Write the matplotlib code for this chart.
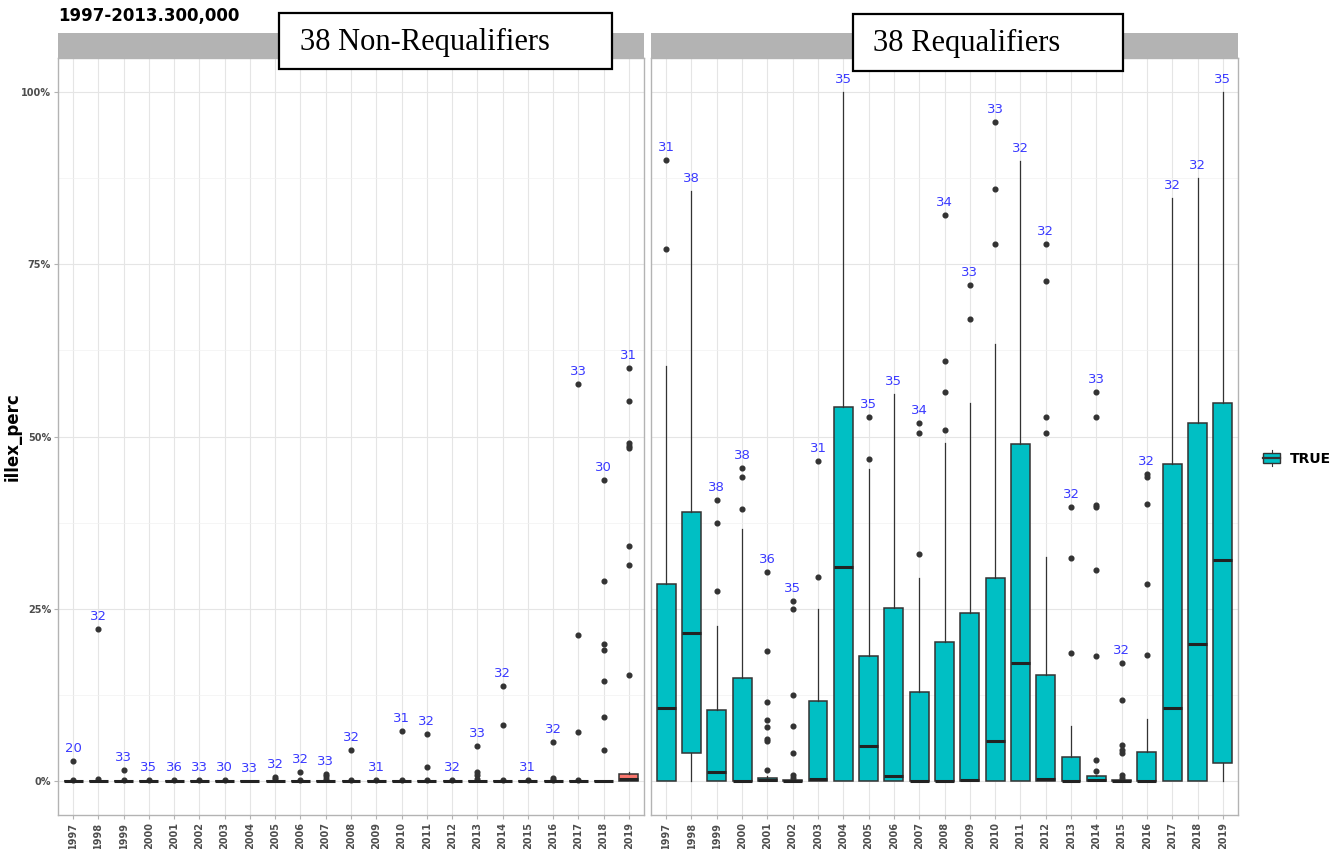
import matplotlib.pyplot as plt
from matplotlib.patches import Rectangle, Patch
from matplotlib.lines import Line2D
from matplotlib.legend_handler import HandlerBase
from matplotlib.ticker import FuncFormatter, MultipleLocator

years = [str(y) for y in range(1997, 2020)]

# ---- Non-Requalifiers (left facet) ----
nr_q1 = [0] * 23
nr_med = [0] * 22 + [0.2]
nr_q3 = [0] * 22 + [0.9]
nr_lo = [0] * 23
nr_hi = [0] * 22 + [1.3]
nr_out = [
    [2.9, 0.1], [22.0, 0.3], [1.5, 0.1], [0.1], [0.1], [0.1], [0.1], [],
    [0.5, 0.2], [1.3, 0.1], [0.9, 0.6, 0.3], [4.5, 0.1], [0.1], [7.2, 0.1],
    [6.8, 2.0, 0.1], [0.1], [5.0, 1.3, 0.8, 0.3], [13.7, 8.1, 0.1], [0.1],
    [5.6, 0.4, 0.1], [57.6, 21.1, 7.0, 0.1],
    [43.7, 29.0, 19.9, 19.0, 14.4, 9.2, 4.5],
    [60.0, 55.2, 49.0, 48.6, 48.4, 34.1, 31.4, 15.4],
]
nr_n = [20, 32, 33, 35, 36, 33, 30, 33, 32, 32, 33, 32, 31, 31, 32, 32, 33, 32, 31, 32, 33, 30, 31]

# ---- Requalifiers (right facet) ----
r_q1 = [0, 4.0] + [0] * 20 + [2.6]
r_med = [10.6, 21.4, 1.3, 0, 0.1, 0, 0.2, 31.0, 5.0, 0.7, 0, 0, 0.1, 5.8, 17.1, 0.2, 0, 0.1, 0, 0, 10.6, 19.9, 32.0]
r_q3 = [28.6, 39.0, 10.3, 14.9, 0.4, 0.1, 11.6, 54.3, 18.1, 25.1, 12.9, 20.1, 24.4, 29.5, 48.9, 15.4, 3.5, 0.6, 0.1, 4.2, 46.0, 52.0, 54.8]
r_lo = [0] * 23
r_hi = [60.3, 85.7, 22.4, 36.6, 0.7, 0.2, 24.9, 100, 45.3, 56.2, 29.5, 49.0, 54.8, 63.4, 90.1, 32.5, 7.9, 0.8, 0.2, 8.9, 84.7, 87.6, 100]
r_out = [
    [90.2, 77.3], [], [40.8, 37.5, 27.5], [45.4, 44.1, 39.5],
    [30.3, 18.8, 11.4, 8.8, 7.8, 6.1, 5.7, 1.5],
    [26.1, 24.9, 12.5, 8.0, 4.0, 0.8, 0.4],
    [46.5, 29.6], [], [52.9, 46.8], [], [51.9, 50.5, 32.9],
    [82.2, 61.0, 56.5, 51.0], [72.0, 67.1], [95.7, 85.9, 77.9], [],
    [78.0, 72.6, 52.9, 50.5], [39.7, 32.3, 18.6],
    [56.4, 52.8, 40.1, 39.8, 30.6, 18.1, 3.0, 1.4],
    [17.1, 11.7, 5.2, 4.5, 4.0, 0.8, 0.4],
    [44.5, 44.1, 40.2, 28.6, 18.2], [], [], [],
]
r_n = [31, 38, 38, 38, 36, 35, 31, 35, 35, 35, 34, 34, 33, 33, 32, 32, 32, 33, 32, 32, 32, 32, 35]

RED = "#F8766D"
TEAL = "#00BFC4"
DARK = "#333333"
W, H = 1338, 849

fig = plt.figure(figsize=(W / 100, H / 100), dpi=100)


def draw_panel(ax, q1, med, q3, lo, hi, out, n, color, show_y):
    stats = []
    for i in range(len(years)):
        stats.append(dict(q1=q1[i], med=med[i], q3=q3[i], whislo=lo[i],
                          whishi=hi[i], fliers=out[i], label=years[i]))
    pos = list(range(1, len(years) + 1))
    ax.bxp(stats, positions=pos, widths=0.75, patch_artist=True,
           showcaps=False, zorder=3,
           boxprops=dict(facecolor=color, edgecolor=DARK, linewidth=1.1),
           medianprops=dict(color="#222222", linewidth=2.2),
           whiskerprops=dict(color=DARK, linewidth=0.9),
           flierprops=dict(marker="o", markersize=3.4, markerfacecolor=DARK,
                           markeredgecolor=DARK))
    for p, h, o, c in zip(pos, hi, out, n):
        top = max([h] + o)
        ax.annotate(str(c), (p, top), xytext=(0, 9), textcoords="offset points",
                    ha="center", va="center", color="#3a3aff", fontsize=9.5,
                    zorder=5)
    ax.set_xlim(0.4, 23.6)
    ax.set_ylim(-5, 105)
    ax.set_xticks(pos)
    ax.set_xticklabels(years, rotation=90, fontsize=7, fontweight="bold",
                       color="#4d4d4d")
    ax.yaxis.set_major_locator(MultipleLocator(25))
    ax.yaxis.set_minor_locator(MultipleLocator(12.5))
    ax.yaxis.set_major_formatter(FuncFormatter(lambda v, _: f"{v:.0f}%"))
    ax.grid(True, which="major", color="#e5e5e5", linewidth=0.8, zorder=0)
    ax.grid(True, which="minor", axis="y", color="#f1f1f1", linewidth=0.5, zorder=0)
    ax.set_axisbelow(True)
    ax.tick_params(axis="both", length=3, color="#b3b3b3", pad=2)
    ax.tick_params(axis="y", which="minor", length=0)
    for lab in ax.get_yticklabels():
        lab.set_fontsize(7)
        lab.set_fontweight("bold")
        lab.set_color("#4d4d4d")
    if not show_y:
        ax.tick_params(axis="y", labelleft=False, length=0)
    for s in ax.spines.values():
        s.set_color("#b3b3b3")
        s.set_linewidth(1.0)


panels = [(58, 586), (651, 587)]
ax1 = fig.add_axes([58 / W, 1 - 815 / H, 586 / W, 757 / H])
ax2 = fig.add_axes([651 / W, 1 - 815 / H, 587 / W, 757 / H])
draw_panel(ax1, nr_q1, nr_med, nr_q3, nr_lo, nr_hi, nr_out, nr_n, RED, True)
draw_panel(ax2, r_q1, r_med, r_q3, r_lo, r_hi, r_out, r_n, TEAL, False)
ax1.set_ylabel("illex_perc", fontsize=12, fontweight="bold")
ax1.yaxis.set_label_coords(-0.062, 0.5)

# facet strips
for x0, w in panels:
    st = fig.add_axes([x0 / W, 1 - 58 / H, w / W, 25 / H])
    st.set_facecolor("#b3b3b3")
    st.set_xticks([])
    st.set_yticks([])
    for s in st.spines.values():
        s.set_visible(False)

fig.text(58 / W, 1 - 16 / H, "1997-2013.300,000", fontsize=12,
         fontweight="bold", ha="left", va="center")

# pasted-on label boxes
for (x0, y0, x1, y1, tx, txt) in [(279, 13, 612, 69, 300, "38 Non-Requalifiers"),
                                  (853, 14, 1123, 71, 873, "38 Requalifiers")]:
    fig.add_artist(Rectangle((x0 / W, 1 - y1 / H), (x1 - x0) / W, (y1 - y0) / H,
                             transform=fig.transFigure, facecolor="white",
                             edgecolor="black", linewidth=1.6, zorder=10))
    fig.text(tx / W, 1 - (y0 + y1 + 2) / 2 / H, txt, fontsize=22,
             family="Liberation Serif", ha="left", va="center", zorder=11)


class BoxHandler(HandlerBase):
    def create_artists(self, legend, orig_handle, xdescent, ydescent,
                       width, height, fontsize, trans):
        cx = width / 2 - xdescent
        bw = width * 0.95
        r = Rectangle((cx - bw / 2, -ydescent + height * 0.1), bw, height * 0.8,
                      facecolor=TEAL, edgecolor=DARK, linewidth=1.0, transform=trans)
        m = Line2D([cx - bw / 2, cx + bw / 2], [height / 2 - ydescent] * 2,
                   color=DARK, linewidth=1.6, transform=trans)
        w1 = Line2D([cx, cx], [-ydescent - height * 0.15, -ydescent + height * 0.1],
                    color=DARK, linewidth=0.8, transform=trans)
        w2 = Line2D([cx, cx], [-ydescent + height * 0.9, -ydescent + height * 1.15],
                    color=DARK, linewidth=0.8, transform=trans)
        return [r, m, w1, w2]


fig.legend([Patch()], ["TRUE"], handler_map={Patch: BoxHandler()},
           loc="center left", bbox_to_anchor=(1250 / W, 1 - 459 / H),
           frameon=False, handlelength=1.3, handleheight=1.0, handletextpad=0.7,
           prop=dict(size=10, weight="bold"))

fig.savefig("out.png", dpi=100)
